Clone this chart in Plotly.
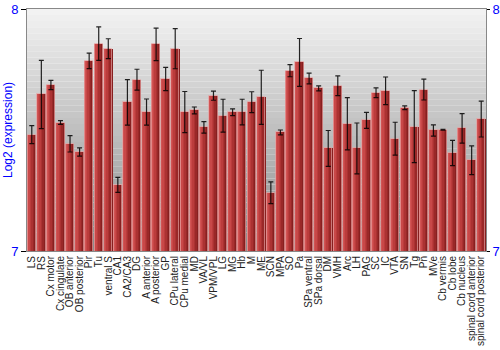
import plotly.graph_objects as go

regions = ["LS", "RS", "Cx motor", "Cx cingulate", "OB anterior", "OB posterior", "Pir", "Tu",
           "ventral S", "CA1", "CA2/CA3", "DG", "A anterior", "A posterior", "GP", "CPu lateral",
           "CPu medial", "MD", "VA/VL", "VPM/VPL", "LG", "MG", "Hb", "M", "ME", "SCN", "MPA", "SO",
           "Pa", "SPa ventral", "SPa dorsal", "DM", "VMH", "Arc", "LH", "PAG", "SC", "IC", "VTA",
           "SN", "Tg", "Pn", "MVe", "Cb vermis", "Cb lobe", "Cb nucleus", "spinal cord anterior",
           "spinal cord posterior"]

expression = [7.481, 7.647, 7.686, 7.531, 7.443, 7.409, 7.786, 7.857,
              7.836, 7.273, 7.614, 7.708, 7.574, 7.854, 7.711, 7.836,
              7.574, 7.581, 7.511, 7.642, 7.559, 7.573, 7.574, 7.615, 7.635, 7.241, 7.490, 7.745,
              7.779, 7.713, 7.672, 7.424, 7.683, 7.526, 7.424, 7.540, 7.654, 7.662, 7.464,
              7.592, 7.514, 7.667, 7.498, 7.501, 7.405, 7.507, 7.375,
              7.545]

errors = [0.037, 0.141, 0.019, 0.008, 0.034, 0.017, 0.032, 0.069,
          0.041, 0.031, 0.094, 0.043, 0.054, 0.067, 0.048, 0.083,
          0.085, 0.014, 0.024, 0.019, 0.068, 0.014, 0.053, 0.043, 0.112, 0.045, 0.010, 0.025,
          0.099, 0.022, 0.010, 0.074, 0.041, 0.108, 0.105, 0.033, 0.020, 0.057, 0.068,
          0.008, 0.149, 0.043, 0.023, 0.002, 0.052, 0.061, 0.059,
          0.074]

y_ticks = [7, 8]
y_range = [7, 8]

fig = go.Figure()

# horizontal gradient in bars via overlaid stripes
stripe_colors = ["#d25454", "#c84848", "#bb3c3c", "#ab3232", "#9a2828", "#872020"]
full_w = 0.88
sw = full_w / len(stripe_colors)
for k, c in enumerate(stripe_colors):
    fig.add_trace(go.Bar(
        x=regions, y=expression, width=sw + 0.005, offset=-full_w / 2 + k * sw,
        marker=dict(color=c, line=dict(width=0)), showlegend=False, hoverinfo="skip"))

# outline + error bars
fig.add_trace(go.Bar(
    x=regions, y=expression, width=full_w, offset=-full_w / 2,
    marker=dict(color="rgba(0,0,0,0)", line=dict(color="rgba(230,160,160,0.7)", width=1)),
    error_y=dict(type="data", array=errors, color="rgba(0,0,0,0.85)", thickness=1.2, width=2.5),
    showlegend=False))

# right-side axis companion
fig.add_trace(go.Scatter(x=[regions[0]], y=[7.5], yaxis="y2", mode="markers",
                         marker=dict(opacity=0), showlegend=False, hoverinfo="skip"))

# background vertical gradient
n = 40
for i in range(n):
    t = i / (n - 1)
    v = int(round(242 - t * (242 - 140)))
    fig.add_shape(type="rect", xref="paper", yref="paper", x0=0, x1=1,
                  y0=1 - (i + 1) / n, y1=1 - i / n, layer="below",
                  fillcolor=f"rgb({v},{v},{v})", line=dict(width=0))

fig.update_layout(
    width=500, height=350,
    margin=dict(l=27, r=14, t=9, b=99),
    paper_bgcolor="white", plot_bgcolor="rgba(0,0,0,0)",
    barmode="overlay", bargap=0,
    font=dict(family="Liberation Sans, Arial, sans-serif", size=10, color="black"),
    xaxis=dict(type="category", tickangle=-90, tickfont=dict(size=10, color="#222"),
               tickmode="array", tickvals=regions, ticktext=regions, automargin=False,
               showgrid=False, showline=True, linecolor="#888", mirror=True, ticks="",
               range=[-0.5, len(regions) - 0.5]),
    yaxis=dict(range=y_range, tickvals=y_ticks, ticktext=[str(v) for v in y_ticks],
               showgrid=False, showline=True, linecolor="#888", mirror=True, automargin=False,
               ticks="outside", ticklen=5, tickcolor="black",
               tickfont=dict(size=13, color="blue"), zeroline=False),
    yaxis2=dict(range=y_range, tickvals=y_ticks, ticktext=[str(v) for v in y_ticks],
                overlaying="y", side="right", showgrid=False, ticks="outside", ticklen=3,
                automargin=False,
                tickcolor="black", tickfont=dict(size=13, color="blue"), zeroline=False),
    annotations=[dict(text="Log2 (expression)", textangle=-90, xref="paper", yref="paper",
                      x=-19 / 459, y=0.5, xanchor="center", yanchor="middle", showarrow=False,
                      font=dict(size=12, color="blue"))],
)

fig.write_html("out.html")
